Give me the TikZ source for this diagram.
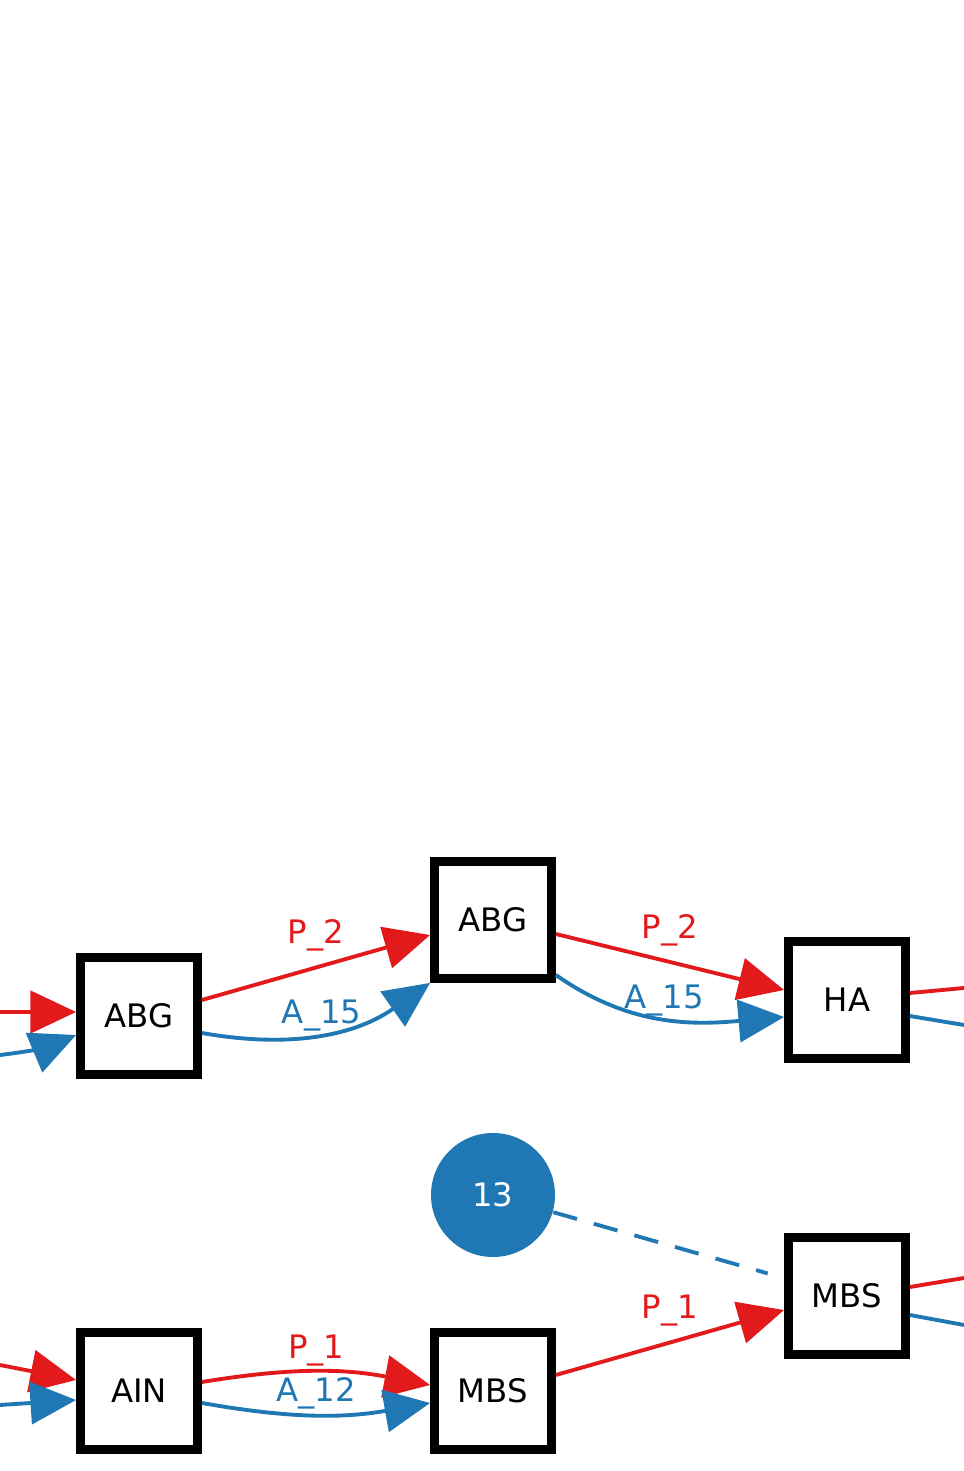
\documentclass[tikz,border=0pt]{standalone}
\usepackage{fontspec}
\setmainfont{DejaVu Sans}
\usetikzlibrary{arrows.meta}
\definecolor{pred}{HTML}{E31A1C}
\definecolor{ablue}{HTML}{1F78B4}
\tikzset{
    box/.style={draw, line width=2.5pt, fill=white, minimum size=1.17cm, inner sep=0pt,
        font=\fontsize{9.2}{11}\selectfont},
    num/.style={circle, fill=ablue, text=white, minimum size=1.24cm, inner sep=0pt,
        font=\fontsize{9.2}{11}\selectfont},
    pflow/.style={pred, line width=1.1pt, -{Triangle[length=13pt,width=12pt]}},
    aflow/.style={ablue, line width=1.1pt, -{Triangle[length=13pt,width=12pt]}},
    pout/.style={pred, line width=1.1pt},
    aout/.style={ablue, line width=1.1pt},
    lbl/.style={font=\fontsize{9.2}{11}\selectfont, inner sep=1pt},
}

\begin{document}
\begin{tikzpicture}
\useasboundingbox (0,0) rectangle (9.64,14.71);

% nodes
\node[box] (abga) at (1.39,4.55) {ABG};
\node[box] (abgb) at (4.93,5.51) {ABG};
\node[box] (ha) at (8.47,4.71) {HA};
\node[num] (c13) at (4.93,2.76) {13};
\node[box] (mbsb) at (8.47,1.75) {MBS};
\node[box] (ain) at (1.39,0.80) {AIN};
\node[box] (mbsa) at (4.93,0.80) {MBS};

% loose ends
\coordinate (inpa) at (0,4.59);
\coordinate (inaa) at (0,4.16);
\coordinate (inpb) at (0,1.06);
\coordinate (inab) at (0,0.66);
\coordinate (outpa) at (9.64,4.83);
\coordinate (outaa) at (9.64,4.46);
\coordinate (outpb) at (9.64,1.93);
\coordinate (outab) at (9.64,1.46);

% upper row
\draw[pflow] (inpa) -- ([yshift=0.4mm]abga.west);
\draw[aflow] (inaa) to[bend right=8] ([yshift=-1.9mm]abga.west);
\draw[pflow] ([yshift=1.6mm]abga.east) -- node[lbl, pred, above=3pt] (lpa) {P\_2} ([yshift=-1.5mm]abgb.west);
\draw[aflow] ([yshift=-1.7mm]abga.east) to[out=-10, in=215] node[lbl, ablue, above=-1pt] (laa) {A\_15} (abgb.south west);
\draw[pflow] ([yshift=-1.4mm]abgb.east) -- node[lbl, pred, above=3pt] (lpb) {P\_2} ([yshift=1mm]ha.west);
\draw[aflow] ([yshift=-5.5mm]abgb.east) to[out=-35, in=185] node[lbl, ablue, above=-1pt] (lab) {A\_15} ([yshift=-1.7mm]ha.west);
\draw[pout] ([yshift=0.7mm]ha.east) -- (outpa);
\draw[aout] ([yshift=-1.6mm]ha.east) -- (outaa);

% lower row
\draw[ablue, line width=1.1pt, dash pattern=on 7pt off 5pt, shorten >=1.7mm] (c13) -- (mbsb);
\draw[pflow] (inpb) -- ([yshift=1.1mm]ain.west);
\draw[aflow] (inab) -- ([yshift=-0.9mm]ain.west);
\draw[pflow] ([yshift=0.9mm]ain.east) to[bend left=10] node[lbl, pred, above=0pt] (lpc) {P\_1} ([yshift=0.6mm]mbsa.west);
\draw[aflow] ([yshift=-1.2mm]ain.east) to[bend right=10] node[lbl, ablue, above=0pt] (lac) {A\_12} ([yshift=-1.2mm]mbsa.west);
\draw[pflow] ([yshift=1.6mm]mbsa.east) -- node[lbl, pred, above=3pt] (lpd) {P\_1} ([yshift=-1.4mm]mbsb.west);
\draw[pout] ([yshift=0.9mm]mbsb.east) -- (outpb);
\draw[aout] ([yshift=-1.9mm]mbsb.east) -- (outab);
\end{tikzpicture}
\end{document}
